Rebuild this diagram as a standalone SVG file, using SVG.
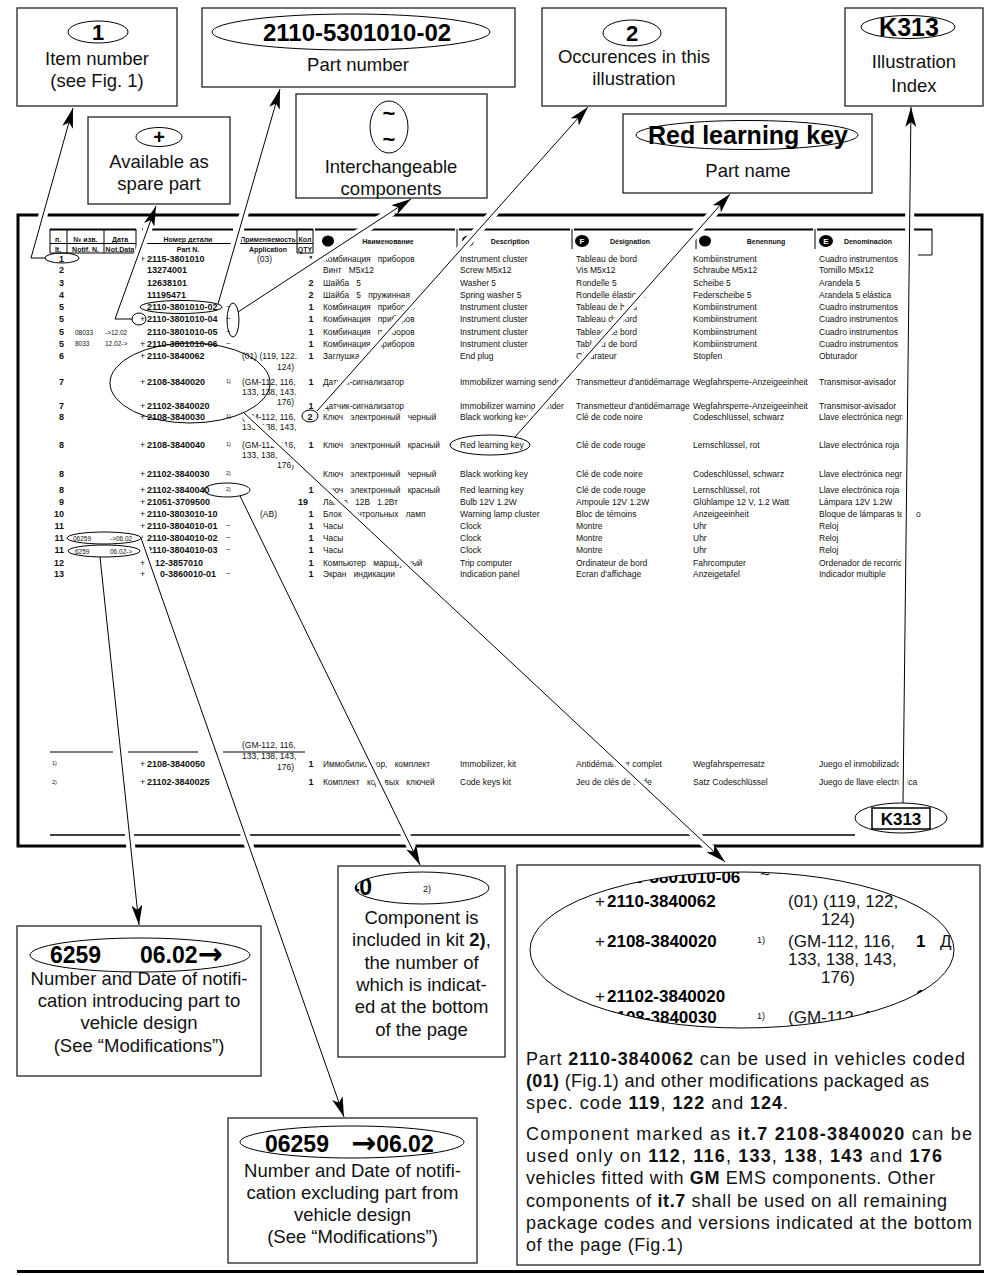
<svg xmlns="http://www.w3.org/2000/svg" width="984" height="1276" viewBox="0 0 984 1276" font-family="'Liberation Sans', Arial, Helvetica, sans-serif">
<defs>
<style>
.box{fill:#fff;stroke:#222;stroke-width:1.3}
.el{fill:none;stroke:#000;stroke-width:1}
.cap{font-size:18.5px;text-anchor:middle;fill:#111}
.bt{font-weight:bold;fill:#000}
.ln{fill:none;stroke:#000;stroke-width:1;marker-end:url(#ah)}
.halo{fill:none;stroke:#fff;stroke-width:9}
.n{font-size:9px;font-weight:bold;fill:#111}
.p{font-size:9px;fill:#111}
.s{font-size:8.5px;fill:#111}
.r{font-size:8.3px;word-spacing:5px;fill:#111}
.m{font-size:6.5px;fill:#111}
.fn{font-size:5.5px;fill:#111}
.hd{font-size:7px;font-weight:bold;text-anchor:middle;fill:#111}
.mg{font-size:17px;fill:#111}
.mgb{font-size:17px;font-weight:bold;fill:#000}
.para{font-size:18px;fill:#111}
.arw{font-family:'DejaVu Sans',sans-serif;font-size:30px;font-weight:bold}
</style>
<marker id="ah" viewBox="0 0 20 11" refX="20" refY="5.5" markerWidth="20" markerHeight="11" markerUnits="userSpaceOnUse" orient="auto"><path d="M0,0 L20,5.5 L0,11 L5,5.5 Z" fill="#000"/></marker>
<clipPath id="magclip"><ellipse cx="742" cy="950" rx="212" ry="78"/></clipPath>
<clipPath id="kitclip"><ellipse cx="422" cy="888" rx="67" ry="16"/></clipPath>
</defs>
<rect width="984" height="1276" fill="#fff"/>

<g id="table">
<rect x="18" y="215" width="964" height="631" fill="none" stroke="#000" stroke-width="3"/>
<path d="M50 229.5H136M142 229.5H233M240 229.5H313M315 229.5H455M459 229.5H570M574 229.5H694M699 229.5H813M817 229.5H932" stroke="#000" stroke-width="1.8" fill="none"/>
<path d="M50 243.5H136M50 253H136M50 229V253M67 229V253M104 229V253M136 229V253M142 243.5H233M240 243.5H313M297 229V253M313 229V253M297 253H313M457 229V249M572 229V249M696 229V249M815 229V249M932 229V255H918" stroke="#000" stroke-width="1" fill="none"/>
<text class="hd"><tspan x="58" y="242">п.</tspan><tspan x="58" y="251.5">It.</tspan><tspan x="85.5" y="242">№ изв.</tspan><tspan x="85.5" y="251.5">Notif. N.</tspan><tspan x="120" y="242">Дата</tspan><tspan x="120" y="251.5">Not.Data</tspan><tspan x="188" y="241.5">Номер детали</tspan><tspan x="188" y="251.5">Part N.</tspan><tspan x="268" y="241.5">Применяемость</tspan><tspan x="268" y="251.5">Application</tspan><tspan x="305" y="241.5">Кол</tspan><tspan x="305" y="251.5">QTY</tspan></text>
<text class="hd"><tspan x="388" y="243.5">Наименование</tspan><tspan x="510" y="243.5">Description</tspan><tspan x="630" y="243.5">Désignation</tspan><tspan x="766" y="243.5">Benennung</tspan><tspan x="868" y="243.5">Denominación</tspan></text>
<g fill="#000"><ellipse cx="328" cy="241" rx="6" ry="5.5"/><ellipse cx="468" cy="241" rx="6" ry="5.5"/><ellipse cx="582" cy="241" rx="7" ry="6"/><ellipse cx="705" cy="241" rx="6" ry="5.5"/><ellipse cx="826" cy="241" rx="7" ry="6"/></g>
<text font-size="8" font-weight="bold" fill="#fff" text-anchor="middle"><tspan x="582" y="244">F</tspan><tspan x="826" y="244">E</tspan></text>

<text class="n" text-anchor="end"><tspan x="64" y="261.5">1</tspan><tspan x="64" y="273">2</tspan><tspan x="64" y="285.5">3</tspan><tspan x="64" y="298">4</tspan><tspan x="64" y="310">5</tspan><tspan x="64" y="322">5</tspan><tspan x="64" y="335">5</tspan><tspan x="64" y="346.5">5</tspan><tspan x="64" y="359">6</tspan><tspan x="64" y="385">7</tspan><tspan x="64" y="408.5">7</tspan><tspan x="64" y="419.5">8</tspan><tspan x="64" y="448">8</tspan><tspan x="64" y="476.5">8</tspan><tspan x="64" y="492.5">8</tspan><tspan x="64" y="505">9</tspan><tspan x="64" y="516.5">10</tspan><tspan x="64" y="529">11</tspan><tspan x="64" y="540.5">11</tspan><tspan x="64" y="553">11</tspan><tspan x="64" y="566">12</tspan><tspan x="64" y="577">13</tspan></text>
<text class="m"><tspan x="75" y="334.5">08033</tspan><tspan x="75" y="346">8033</tspan><tspan x="73" y="540.5">06259</tspan><tspan x="75" y="553.5">6259</tspan><tspan x="105" y="334.5">-&gt;12.02</tspan><tspan x="105" y="346">12.02-&gt;</tspan><tspan x="110" y="540.5">-&gt;06.02</tspan><tspan x="110" y="553.5">06.02-&gt;</tspan></text>
<text class="p"><tspan x="140" y="261.5">+</tspan><tspan x="140" y="322">+</tspan><tspan x="140" y="346.5">+</tspan><tspan x="140" y="359">+</tspan><tspan x="140" y="385">+</tspan><tspan x="140" y="408.5">+</tspan><tspan x="140" y="419.5">+</tspan><tspan x="140" y="448">+</tspan><tspan x="140" y="476.5">+</tspan><tspan x="140" y="492.5">+</tspan><tspan x="140" y="505">+</tspan><tspan x="140" y="516.5">+</tspan><tspan x="140" y="529">+</tspan><tspan x="140" y="540.5">+</tspan><tspan x="140" y="553">+</tspan><tspan x="140" y="566">+</tspan><tspan x="140" y="577">+</tspan><tspan x="140" y="766.5">+</tspan><tspan x="140" y="785">+</tspan></text>
<text class="n"><tspan x="147" y="261.5">2115-3801010</tspan><tspan x="147" y="273">13274001</tspan><tspan x="147" y="285.5">12638101</tspan><tspan x="147" y="298">11195471</tspan><tspan x="147" y="310">2110-3801010-02</tspan><tspan x="147" y="322">2110-3801010-04</tspan><tspan x="147" y="335">2110-3801010-05</tspan><tspan x="147" y="346.5">2110-3801010-06</tspan><tspan x="147" y="359">2110-3840062</tspan><tspan x="147" y="385">2108-3840020</tspan><tspan x="147" y="408.5">21102-3840020</tspan><tspan x="147" y="419.5">2108-3840030</tspan><tspan x="147" y="448">2108-3840040</tspan><tspan x="147" y="476.5">21102-3840030</tspan><tspan x="147" y="492.5">21102-3840040</tspan><tspan x="147" y="505">21051-3709500</tspan><tspan x="147" y="516.5">2110-3803010-10</tspan><tspan x="147" y="529">2110-3804010-01</tspan><tspan x="147" y="540.5">2110-3804010-02</tspan><tspan x="147" y="553">2110-3804010-03</tspan><tspan x="155" y="566">12-3857010</tspan><tspan x="160" y="577">0-3860010-01</tspan><tspan x="147" y="766.5">2108-3840050</tspan><tspan x="147" y="785">21102-3840025</tspan></text>
<text font-size="8" fill="#111"><tspan x="226" y="309">~</tspan><tspan x="226" y="321">~</tspan><tspan x="226" y="334">~</tspan><tspan x="226" y="345.5">~</tspan><tspan x="226" y="528">~</tspan><tspan x="226" y="539.5">~</tspan><tspan x="226" y="552">~</tspan><tspan x="226" y="576">~</tspan></text>
<text class="fn"><tspan x="226" y="383">1)</tspan><tspan x="226" y="418">1)</tspan><tspan x="226" y="446">1)</tspan><tspan x="226" y="475">2)</tspan><tspan x="226" y="491">2)</tspan><tspan x="52" y="765">1)</tspan><tspan x="52" y="784">2)</tspan></text>
<text class="s"><tspan x="257" y="261.5">(03)</tspan><tspan x="242" y="359">(01) (119, 122.</tspan><tspan x="242" y="385">(GM-112, 116,</tspan><tspan x="242" y="395">133, 138, 143.</tspan><tspan x="242" y="419.5">(GM-112, 116,</tspan><tspan x="242" y="430">133, 138, 143,</tspan><tspan x="242" y="448">(GM-112, 116,</tspan><tspan x="242" y="458">133, 138,</tspan><tspan x="260" y="516.5">(AB)</tspan><tspan x="242" y="748">(GM-112, 116,</tspan><tspan x="242" y="759">133, 138, 143,</tspan></text>
<text class="s" text-anchor="end"><tspan x="294" y="370">124)</tspan><tspan x="294" y="404.5">176)</tspan><tspan x="294" y="468">176)</tspan><tspan x="294" y="770">176)</tspan></text>
<text class="n" text-anchor="middle"><tspan x="311" y="261.5">1</tspan><tspan x="311" y="285.5">2</tspan><tspan x="311" y="298">2</tspan><tspan x="311" y="310">1</tspan><tspan x="311" y="322">1</tspan><tspan x="311" y="335">1</tspan><tspan x="311" y="346.5">1</tspan><tspan x="311" y="359">1</tspan><tspan x="311" y="385">1</tspan><tspan x="311" y="408.5">1</tspan><tspan x="310" y="419.5">2</tspan><tspan x="311" y="448">1</tspan><tspan x="311" y="492.5">1</tspan><tspan x="303" y="505">19</tspan><tspan x="311" y="516.5">1</tspan><tspan x="311" y="529">1</tspan><tspan x="311" y="540.5">1</tspan><tspan x="311" y="553">1</tspan><tspan x="311" y="566">1</tspan><tspan x="311" y="577">1</tspan><tspan x="311" y="766.5">1</tspan><tspan x="311" y="785">1</tspan></text>
<text class="r"><tspan x="323" y="261.5">Комбинация приборов</tspan><tspan x="323" y="273">Винт М5х12</tspan><tspan x="323" y="285.5">Шайба 5</tspan><tspan x="323" y="298">Шайба 5 пружинная</tspan><tspan x="323" y="310">Комбинация приборов</tspan><tspan x="323" y="322">Комбинация приборов</tspan><tspan x="323" y="335">Комбинация приборов</tspan><tspan x="323" y="346.5">Комбинация приборов</tspan><tspan x="323" y="359">Заглушка</tspan><tspan x="323" y="385">Датчик-сигнализатор</tspan><tspan x="323" y="408.5">Датчик-сигнализатор</tspan><tspan x="323" y="419.5">Ключ электронный черный</tspan><tspan x="323" y="448">Ключ электронный красный</tspan><tspan x="323" y="476.5">Ключ электронный черный</tspan><tspan x="323" y="492.5">Ключ электронный красный</tspan><tspan x="323" y="505">Лампа 12В 1.2Вт</tspan><tspan x="323" y="516.5">Блок контрольных ламп</tspan><tspan x="323" y="529">Часы</tspan><tspan x="323" y="540.5">Часы</tspan><tspan x="323" y="553">Часы</tspan><tspan x="323" y="566">Компьютер маршрутный</tspan><tspan x="323" y="577">Экран индикации</tspan><tspan x="323" y="766.5">Иммобилизатор, комплект</tspan><tspan x="323" y="785">Комплект кодовых ключей</tspan></text>
<text class="s"><tspan x="460" y="261.5">Instrument cluster</tspan><tspan x="460" y="273">Screw M5x12</tspan><tspan x="460" y="285.5">Washer 5</tspan><tspan x="460" y="298">Spring washer 5</tspan><tspan x="460" y="310">Instrument cluster</tspan><tspan x="460" y="322">Instrument cluster</tspan><tspan x="460" y="335">Instrument cluster</tspan><tspan x="460" y="346.5">Instrument cluster</tspan><tspan x="460" y="359">End plug</tspan><tspan x="460" y="385">Immobilizer warning sender</tspan><tspan x="460" y="408.5">Immobilizer warning sender</tspan><tspan x="460" y="419.5">Black working key</tspan><tspan x="460" y="448">Red learning key</tspan><tspan x="460" y="476.5">Black working key</tspan><tspan x="460" y="492.5">Red learning key</tspan><tspan x="460" y="505">Bulb 12V 1.2W</tspan><tspan x="460" y="516.5">Warning lamp cluster</tspan><tspan x="460" y="529">Clock</tspan><tspan x="460" y="540.5">Clock</tspan><tspan x="460" y="553">Clock</tspan><tspan x="460" y="566">Trip computer</tspan><tspan x="460" y="577">Indication panel</tspan><tspan x="460" y="766.5">Immobilizer, kit</tspan><tspan x="460" y="785">Code keys kit</tspan></text>
<text class="s"><tspan x="576" y="261.5">Tableau de bord</tspan><tspan x="576" y="273">Vis M5x12</tspan><tspan x="576" y="285.5">Rondelle 5</tspan><tspan x="576" y="298">Rondelle élastique</tspan><tspan x="576" y="310">Tableau de bord</tspan><tspan x="576" y="322">Tableau de bord</tspan><tspan x="576" y="335">Tableau de bord</tspan><tspan x="576" y="346.5">Tableau de bord</tspan><tspan x="576" y="359">Obturateur</tspan><tspan x="576" y="385">Transmetteur d'antidémarrage</tspan><tspan x="576" y="408.5">Transmetteur d'antidémarrage</tspan><tspan x="576" y="419.5">Clé de code noire</tspan><tspan x="576" y="448">Clé de code rouge</tspan><tspan x="576" y="476.5">Clé de code noire</tspan><tspan x="576" y="492.5">Clé de code rouge</tspan><tspan x="576" y="505">Ampoule 12V 1.2W</tspan><tspan x="576" y="516.5">Bloc de témoins</tspan><tspan x="576" y="529">Montre</tspan><tspan x="576" y="540.5">Montre</tspan><tspan x="576" y="553">Montre</tspan><tspan x="576" y="566">Ordinateur de bord</tspan><tspan x="576" y="577">Ecran d'affichage</tspan><tspan x="576" y="766.5">Antidémarreur complet</tspan><tspan x="576" y="785">Jeu de clés de code</tspan></text>
<text class="s"><tspan x="693" y="261.5">Kombiinstrument</tspan><tspan x="693" y="273">Schraube M5x12</tspan><tspan x="693" y="285.5">Scheibe 5</tspan><tspan x="693" y="298">Federscheibe 5</tspan><tspan x="693" y="310">Kombiinstrument</tspan><tspan x="693" y="322">Kombiinstrument</tspan><tspan x="693" y="335">Kombiinstrument</tspan><tspan x="693" y="346.5">Kombiinstrument</tspan><tspan x="693" y="359">Stopfen</tspan><tspan x="693" y="385">Wegfahrsperre-Anzeigeeinheit</tspan><tspan x="693" y="408.5">Wegfahrsperre-Anzeigeeinheit</tspan><tspan x="693" y="419.5">Codeschlüssel, schwarz</tspan><tspan x="693" y="448">Lernschlüssel, rot</tspan><tspan x="693" y="476.5">Codeschlüssel, schwarz</tspan><tspan x="693" y="492.5">Lernschlüssel, rot</tspan><tspan x="693" y="505">Glühlampe 12 V, 1.2 Watt</tspan><tspan x="693" y="516.5">Anzeigeeinheit</tspan><tspan x="693" y="529">Uhr</tspan><tspan x="693" y="540.5">Uhr</tspan><tspan x="693" y="553">Uhr</tspan><tspan x="693" y="566">Fahrcomputer</tspan><tspan x="693" y="577">Anzeigetafel</tspan><tspan x="693" y="766.5">Wegfahrsperresatz</tspan><tspan x="693" y="785">Satz Codeschlüssel</tspan></text>
<text class="s"><tspan x="819" y="261.5">Cuadro instrumentos</tspan><tspan x="819" y="273">Tornillo M5x12</tspan><tspan x="819" y="285.5">Arandela 5</tspan><tspan x="819" y="298">Arandela 5 elástica</tspan><tspan x="819" y="310">Cuadro instrumentos</tspan><tspan x="819" y="322">Cuadro instrumentos</tspan><tspan x="819" y="335">Cuadro instrumentos</tspan><tspan x="819" y="346.5">Cuadro instrumentos</tspan><tspan x="819" y="359">Obturador</tspan><tspan x="819" y="385">Transmisor-avisador</tspan><tspan x="819" y="408.5">Transmisor-avisador</tspan><tspan x="819" y="419.5">Llave electrónica negra</tspan><tspan x="819" y="448">Llave electrónica roja</tspan><tspan x="819" y="476.5">Llave electrónica negra</tspan><tspan x="819" y="492.5">Llave electrónica roja</tspan><tspan x="819" y="505">Lámpara 12V 1.2W</tspan><tspan x="819" y="516.5">Bloque de lámparas te</tspan><tspan x="916" y="516.5">o</tspan><tspan x="819" y="529">Reloj</tspan><tspan x="819" y="540.5">Reloj</tspan><tspan x="819" y="553">Reloj</tspan><tspan x="819" y="566">Ordenador de recorrido</tspan><tspan x="819" y="577">Indicador multiple</tspan><tspan x="819" y="766.5">Juego el inmobilizador</tspan><tspan x="819" y="785">Juego de llave electrónica</tspan></text>
<path d="M50 752H113M128 752H198M223 752H305" stroke="#000" stroke-width="1.2" fill="none"/>
<path d="M50 835H855" stroke="#000" stroke-width="1.5" fill="none"/>
</g>

<g id="node-item">
<rect class="box" x="17" y="8" width="160" height="98"/>
<ellipse class="el" cx="98" cy="32" rx="30" ry="11"/>
<text class="bt" x="98" y="40" font-size="22" text-anchor="middle">1</text>
<text class="cap" x="97" y="65">Item number</text>
<text class="cap" x="97" y="87">(see Fig. 1)</text>
</g>
<g id="node-partnumber">
<rect class="box" x="202" y="8" width="313" height="79"/>
<ellipse class="el" cx="351" cy="32" rx="139" ry="18"/>
<text class="bt" x="357" y="41" font-size="24" text-anchor="middle">2110-5301010-02</text>
<text class="cap" x="358" y="71">Part number</text>
</g>
<g id="node-spare">
<rect class="box" x="88" y="117" width="142" height="87"/>
<ellipse class="el" cx="159" cy="137" rx="23" ry="9.5"/>
<text class="bt" x="159" y="144" font-size="20" text-anchor="middle">+</text>
<text class="cap" x="159" y="168">Available as</text>
<text class="cap" x="159" y="190">spare part</text>
</g>
<g id="node-interchangeable">
<rect class="box" x="296" y="94" width="191" height="104"/>
<ellipse class="el" cx="389" cy="127" rx="19" ry="26"/>
<text class="bt" x="389" y="121" font-size="22" text-anchor="middle">~</text>
<text class="bt" x="389" y="147" font-size="22" text-anchor="middle">~</text>
<text class="cap" x="391" y="173">Interchangeable</text>
<text class="cap" x="391" y="195">components</text>
</g>
<g id="node-occurences">
<rect class="box" x="542" y="8" width="184" height="98"/>
<ellipse class="el" cx="632" cy="33" rx="29" ry="13"/>
<text class="bt" x="632" y="41" font-size="22" text-anchor="middle">2</text>
<text class="cap" x="634" y="63">Occurences in this</text>
<text class="cap" x="634" y="85">illustration</text>
</g>
<g id="node-partname">
<rect class="box" x="623" y="114" width="249" height="79"/>
<ellipse class="el" cx="747" cy="135" rx="111" ry="14.5"/>
<text class="bt" x="748" y="144" font-size="25" text-anchor="middle">Red learning key</text>
<text class="cap" x="748" y="177">Part name</text>
</g>
<g id="node-index">
<rect class="box" x="845" y="8" width="138" height="98"/>
<ellipse class="el" cx="908" cy="27" rx="47" ry="11.5"/>
<text class="bt" x="909" y="36" font-size="25" text-anchor="middle">K313</text>
<text class="cap" x="914" y="68">Illustration</text>
<text class="cap" x="914" y="92">Index</text>
</g>
<g id="node-introduced">
<rect class="box" x="17" y="926" width="244" height="150"/>
<ellipse class="el" cx="140" cy="955" rx="110" ry="17"/>
<text class="bt" y="963" font-size="23"><tspan x="50">6259</tspan><tspan x="140">06.02</tspan><tspan class="arw" dy="1">→</tspan></text>
<text class="cap"><tspan x="139" y="985">Number and Date of notifi-</tspan><tspan x="139" y="1007">cation introducing part to</tspan><tspan x="139" y="1029">vehicle design</tspan><tspan x="139" y="1052">(See “Modifications”)</tspan></text>
</g>
<g id="node-kit">
<rect class="box" x="338" y="866" width="167" height="191"/>
<g clip-path="url(#kitclip)"><text class="bt" x="372" y="895" font-size="23" text-anchor="end">40</text></g>
<text x="423" y="892" font-size="9" fill="#111">2)</text>
<ellipse class="el" cx="422" cy="888" rx="67" ry="16"/>
<text class="cap"><tspan x="421.5" y="924">Component is</tspan><tspan x="421.5" y="946">included in kit <tspan font-weight="bold">2)</tspan>,</tspan><tspan x="421.5" y="969">the number of</tspan><tspan x="421.5" y="991">which is indicat-</tspan><tspan x="421.5" y="1013">ed at the bottom</tspan><tspan x="421.5" y="1036">of the page</tspan></text>
</g>
<g id="node-excluded">
<rect class="box" x="228" y="1118" width="249" height="145"/>
<ellipse class="el" cx="352" cy="1142" rx="112" ry="16"/>
<text class="bt" y="1152" font-size="23"><tspan x="265">06259</tspan><tspan class="arw" x="351" dy="1">→</tspan><tspan dy="-1">06.02</tspan></text>
<text class="cap"><tspan x="352.5" y="1177">Number and Date of notifi-</tspan><tspan x="352.5" y="1199">cation excluding part from</tspan><tspan x="352.5" y="1221">vehicle design</tspan><tspan x="352.5" y="1243">(See “Modifications”)</tspan></text>
</g>
<g id="node-detail">
<rect class="box" x="517" y="865" width="463" height="400"/>
<g clip-path="url(#magclip)">
<text class="mg"><tspan x="595" y="883">+</tspan><tspan x="595" y="907">+</tspan><tspan x="595" y="947">+</tspan><tspan x="595" y="1002">+</tspan><tspan x="595" y="1023">+</tspan></text>
<text class="mgb"><tspan x="607" y="883">2110-3801010-06</tspan><tspan x="607" y="907">2110-3840062</tspan><tspan x="607" y="947">2108-3840020</tspan><tspan x="607" y="1002">21102-3840020</tspan><tspan x="607" y="1023">2108-3840030</tspan><tspan x="916" y="947">1</tspan><tspan x="916" y="1002">1</tspan></text>
<text class="mg"><tspan x="760" y="880">~</tspan><tspan x="788" y="907">(01) (119, 122,</tspan><tspan x="788" y="947">(GM-112, 116,</tspan><tspan x="788" y="965">133, 138, 143,</tspan><tspan x="788" y="1023">(GM-112, 116,</tspan><tspan x="940" y="947">Д</tspan></text>
<text class="mg" text-anchor="end"><tspan x="855" y="925">124)</tspan><tspan x="855" y="983">176)</tspan></text>
<text font-size="9" fill="#111"><tspan x="757" y="943">1)</tspan><tspan x="757" y="1019">1)</tspan></text>
</g>
<ellipse class="el" cx="742" cy="950" rx="212" ry="78"/>
<text class="para" x="526" y="1065" textLength="439" lengthAdjust="spacing">Part <tspan font-weight="bold">2110-3840062</tspan> can be used in vehicles coded</text>
<text class="para" x="526" y="1087" textLength="403" lengthAdjust="spacing"><tspan font-weight="bold">(01)</tspan> (Fig.1) and other modifications packaged as</text>
<text class="para" x="526" y="1109" textLength="262" lengthAdjust="spacing">spec. code <tspan font-weight="bold">119</tspan>, <tspan font-weight="bold">122</tspan> and <tspan font-weight="bold">124</tspan>.</text>
<text class="para" x="526" y="1140" textLength="446" lengthAdjust="spacing">Component marked as  <tspan font-weight="bold">it.7 2108-3840020</tspan> can be</text>
<text class="para" x="526" y="1162" textLength="416" lengthAdjust="spacing">used only on <tspan font-weight="bold">112</tspan>, <tspan font-weight="bold">116</tspan>, <tspan font-weight="bold">133</tspan>, <tspan font-weight="bold">138</tspan>, <tspan font-weight="bold">143</tspan> and <tspan font-weight="bold">176</tspan></text>
<text class="para" x="526" y="1184" textLength="409" lengthAdjust="spacing">vehicles fitted with <tspan font-weight="bold">GM</tspan> EMS components. Other</text>
<text class="para" x="526" y="1207" textLength="421" lengthAdjust="spacing">components of <tspan font-weight="bold">it.7</tspan> shall be used on all remaining</text>
<text class="para" x="526" y="1229" textLength="446" lengthAdjust="spacing">package codes and versions indicated at the bottom</text>
<text class="para" x="526" y="1251" textLength="157" lengthAdjust="spacing">of the page (Fig.1)</text>
</g>

<g id="connectors">
<g class="halo">
<path d="M45 258H31L67 129"/>
<path d="M132 319H115L148.5 226.7"/>
<path d="M218 304L273.9 110.1"/>
<path d="M238 312L392.6 211"/>
<path d="M317 411L573.3 123.4"/>
<path d="M515 437L715.4 210.5"/>
<path d="M903 803L910.7 129"/>
<path d="M100 557L136.7 903"/>
<path d="M141 538L336.7 1096"/>
<path d="M240 496L413.9 852"/>
<path d="M243 412L713 851"/>
</g>
<path class="ln" d="M45 258H31L73 108"/>
<path class="ln" d="M132 319H115L156 206"/>
<path class="ln" d="M218 304L280 89"/>
<path class="ln" d="M238 312L411 199"/>
<path class="ln" d="M317 411L588 107"/>
<path class="ln" d="M515 437L730 194"/>
<path class="ln" d="M903 803L911 107"/>
<path class="ln" d="M100 557L139 925"/>
<path class="ln" d="M141 538L344 1117"/>
<path class="ln" d="M240 496L420 865"/>
<path class="ln" d="M243 412L725 862"/>
</g>

<g id="highlights" class="el">
<ellipse cx="62" cy="258" rx="17" ry="5"/>
<ellipse cx="139" cy="319" rx="7" ry="6"/>
<ellipse cx="181" cy="307" rx="41" ry="6.5"/>
<ellipse cx="233" cy="320" rx="6" ry="17"/>
<ellipse cx="190" cy="383" rx="80" ry="40"/>
<ellipse cx="310" cy="416" rx="8" ry="6"/>
<ellipse cx="490" cy="445" rx="40" ry="10"/>
<ellipse cx="227" cy="490" rx="23" ry="7"/>
<ellipse cx="104" cy="538" rx="37" ry="6"/>
<ellipse cx="104" cy="551" rx="36" ry="6"/>
</g>
<g id="node-k313-ref">
<ellipse class="el" cx="901" cy="818" rx="46" ry="15"/>
<rect x="872" y="808" width="58" height="21" fill="#fff" stroke="#000" stroke-width="1.5"/>
<text class="bt" x="901" y="825" font-size="17" text-anchor="middle">K313</text>
</g>
<path d="M17 1271.5H984" stroke="#000" stroke-width="3" fill="none"/>
</svg>
